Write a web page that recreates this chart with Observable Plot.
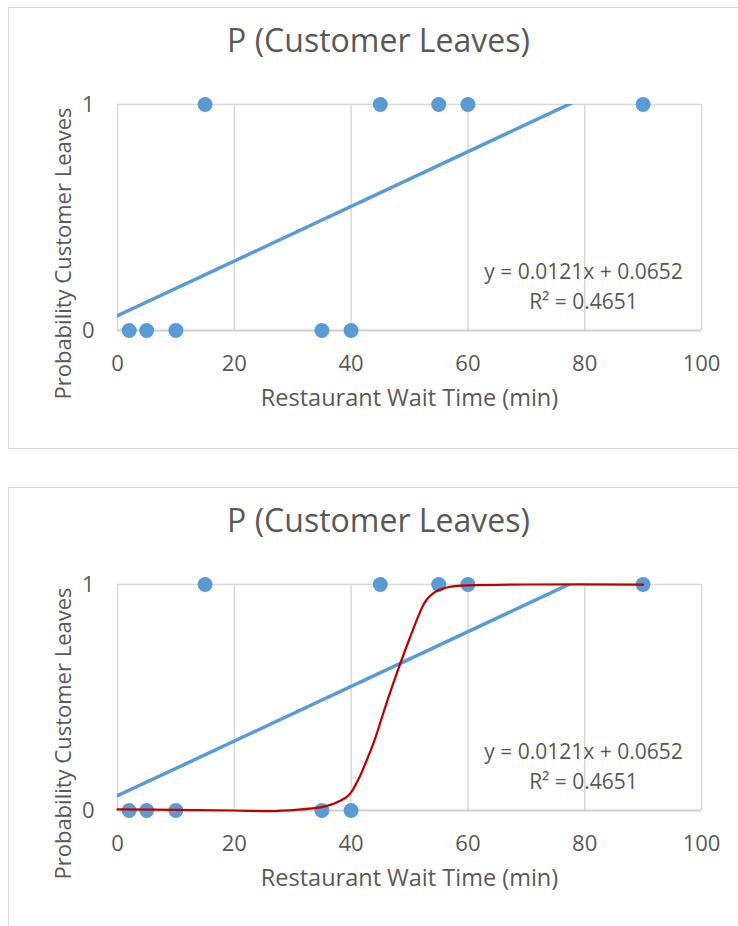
<!DOCTYPE html>
<html>
<head>
<meta charset="utf-8">
<script src="https://cdn.jsdelivr.net/npm/d3@7"></script>
<script src="https://cdn.jsdelivr.net/npm/@observablehq/plot@0.6"></script>
<style>
  body { margin: 0; background: #fff; font-family: "Open Sans", sans-serif; color: #595959; }
  #page { position: relative; width: 738px; height: 926px; overflow: hidden; }
  .panel { position: absolute; left: 0; width: 738px; height: 480px; }
  .box { position: absolute; left: 8px; top: 7px; width: 741px; height: 442px;
         border: 1.5px solid #d9d9d9; box-sizing: border-box; }
  .title { position: absolute; left: 8px; top: 24px; width: 741px; text-align: center;
           font-size: 32px; line-height: 32px; color: #595959; white-space: nowrap; }
  .chart { position: absolute; left: 0; top: 0; }
</style>
</head>
<body>
<div id="page"></div>
<script>
// Observations: wait time (minutes) and whether the customer left (1) or stayed (0)
const waitTimes = [2, 5, 10, 15, 35, 40, 45, 55, 60, 90];
const leaves    = [0, 0, 0, 1, 0, 0, 1, 1, 1, 1];

// Linear trendline reported by the fit
const trendSlope = 0.0121;
const trendIntercept = 0.0652;
const trendR2 = 0.4651;
const trendRange = [0, 90];

// Logistic model: predicted probability along the wait-time axis
const logisticX = [0, 10, 20, 26, 31, 35, 37, 39, 40, 41, 42, 44, 46, 48, 50, 52, 53, 54, 55, 57, 60, 70, 90];
const logisticP = [0.005, 0.003, 0.0, -0.003, 0.004, 0.015, 0.03, 0.055, 0.08, 0.125, 0.18, 0.31, 0.47,
                   0.62, 0.76, 0.89, 0.935, 0.96, 0.975, 0.99, 0.996, 1.0, 1.0];

// Axis ticks and labels
const xTicks = [0, 20, 40, 60, 80, 100];
const yTicks = [0, 1];
const chartTitle = "P (Customer Leaves)";
const xLabel = "Restaurant Wait Time (min)";
const yLabel = "Probability Customer Leaves";

const BLUE = "#5B9BD5";
const RED = "#C00000";
const GRID = "#d9d9d9";
const INK = "#595959";

const points = waitTimes.map((x, i) => ({x, y: leaves[i]}));
const trend = trendRange.map(x => ({x, y: trendIntercept + trendSlope * x}));
const logistic = logisticX.map((x, i) => ({x, y: logisticP[i]}));
const eqLine1 = `y = ${trendSlope}x + ${trendIntercept}`;
const eqLine2 = `R² = ${trendR2}`;

function makeChart(withLogistic) {
  const marks = [
    Plot.gridX(xTicks, {stroke: GRID, strokeOpacity: 1, strokeWidth: 1.5}),
    Plot.gridY([1], {stroke: GRID, strokeOpacity: 1, strokeWidth: 1.5}),
    Plot.ruleY([0], {stroke: "#cfcfcf", strokeWidth: 2}),
    Plot.axisX({ticks: xTicks, tickSize: 0, tickPadding: 25, label: null, tickFormat: d => d}),
    Plot.axisY({ticks: yTicks, tickSize: 0, tickPadding: 23, label: null, tickFormat: d => d}),
    Plot.dot(points, {x: "x", y: "y", r: 7.5, fill: BLUE}),
    Plot.line(trend, {x: "x", y: "y", stroke: BLUE, strokeWidth: 3.5, clip: true})
  ];
  if (withLogistic) {
    marks.push(Plot.line(logistic, {x: "x", y: "y", stroke: RED, strokeWidth: 2.25,
                                    curve: "cardinal", tension: 0}));
  }
  const label = {text: d => d, fill: INK, textAnchor: "middle", lineAnchor: "middle"};
  marks.push(
    Plot.text([eqLine1], {...label, frameAnchor: "bottom-right", dx: -118, dy: -58, fontSize: 21}),
    Plot.text([eqLine2], {...label, frameAnchor: "bottom-right", dx: -118, dy: -28, fontSize: 21}),
    Plot.text([xLabel], {...label, frameAnchor: "bottom", dy: 68, fontSize: 23.5}),
    Plot.text([yLabel], {...label, frameAnchor: "left", rotate: -90, dx: -54, dy: 36, fontSize: 22})
  );
  return Plot.plot({
    width: 738,
    height: 450,
    marginLeft: 117,
    marginRight: 37,
    marginTop: 104,
    marginBottom: 120,
    x: {domain: [0, 100]},
    y: {domain: [0, 1]},
    style: {fontFamily: '"Open Sans", sans-serif', fontSize: "22px", color: INK,
            background: "transparent", overflow: "visible"},
    marks
  });
}

const page = document.getElementById("page");
[false, true].forEach((withLogistic, k) => {
  const panel = document.createElement("div");
  panel.className = "panel";
  panel.style.top = (k * 480) + "px";
  const box = document.createElement("div");
  box.className = "box";
  const title = document.createElement("div");
  title.className = "title";
  title.textContent = chartTitle;
  const svg = makeChart(withLogistic);
  svg.classList.add("chart");
  panel.append(box, title, svg);
  page.append(panel);
});
</script>
</body>
</html>
